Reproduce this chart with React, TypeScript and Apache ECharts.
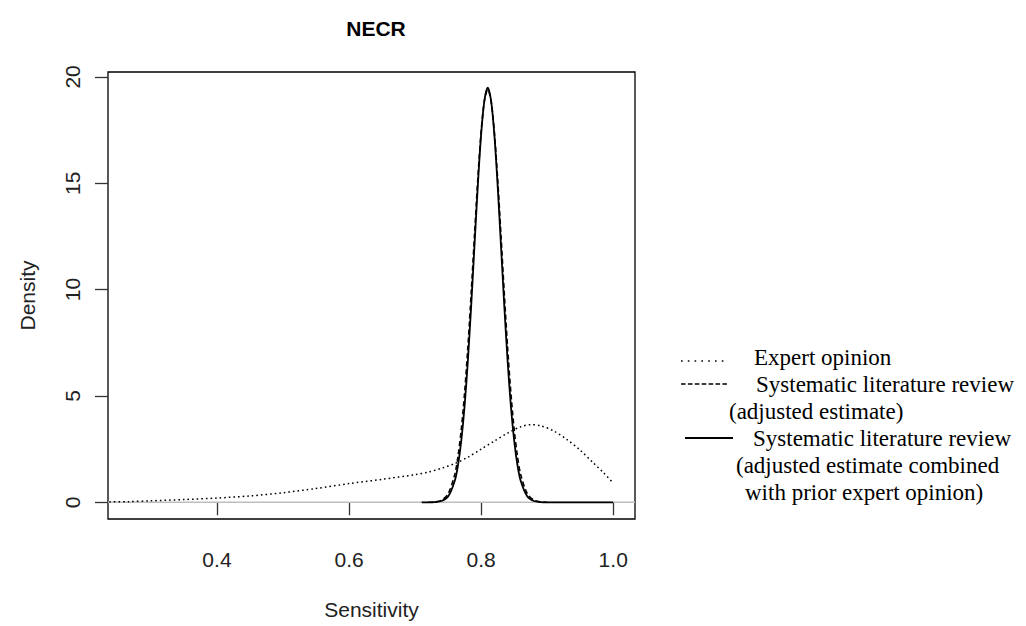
import React, { useEffect, useRef } from "react";
import * as echarts from "echarts";

// ---- data ----
const expertX = [0.237, 0.265, 0.3, 0.35, 0.4, 0.45, 0.5, 0.55, 0.6, 0.65, 0.7, 0.72, 0.74, 0.76, 0.78, 0.8, 0.82, 0.84, 0.86, 0.875, 0.89, 0.91, 0.93, 0.95, 0.97, 0.985, 1.0];
const expertY = [0.02, 0.03, 0.07, 0.13, 0.2, 0.3, 0.45, 0.65, 0.88, 1.08, 1.3, 1.42, 1.6, 1.82, 2.12, 2.5, 2.88, 3.25, 3.55, 3.65, 3.6, 3.35, 2.95, 2.45, 1.85, 1.4, 0.9];

const reviewX = [0.72, 0.73, 0.74, 0.75, 0.76, 0.765, 0.77, 0.775, 0.78, 0.785, 0.79, 0.795, 0.8, 0.805, 0.81, 0.815, 0.82, 0.825, 0.83, 0.835, 0.84, 0.845, 0.85, 0.855, 0.86, 0.87, 0.88, 0.89, 0.9];
const reviewY = [0, 0.02, 0.1, 0.4, 1.3, 2.17, 3.44, 5.16, 7.33, 9.87, 12.59, 15.21, 17.41, 18.88, 19.4, 18.88, 17.41, 15.21, 12.59, 9.87, 7.33, 5.16, 3.44, 2.17, 1.3, 0.4, 0.1, 0.02, 0];

const combinedX = [0.71, 0.72, 0.73, 0.74, 0.75, 0.76, 0.765, 0.77, 0.775, 0.78, 0.785, 0.79, 0.795, 0.8, 0.805, 0.81, 0.815, 0.82, 0.825, 0.83, 0.835, 0.84, 0.845, 0.85, 0.855, 0.86, 0.87, 0.88, 0.89, 0.9, 1.0];
const combinedY = [0, 0, 0.01, 0.06, 0.27, 1.0, 1.75, 2.91, 4.54, 6.69, 9.27, 12.1, 14.9, 17.3, 18.9, 19.5, 18.9, 17.3, 14.9, 12.1, 9.27, 6.69, 4.54, 2.91, 1.75, 1.0, 0.27, 0.06, 0.01, 0, 0];

const xTicks = [0.4, 0.6, 0.8, 1.0];
const yTicks = [0, 5, 10, 15, 20];

const titleText = "NECR";
const xTitle = "Sensitivity";
const yTitle = "Density";

const legendLines = [
  "Expert opinion",
  "Systematic literature review",
  "(adjusted estimate)",
  "Systematic literature review",
  "(adjusted estimate combined",
  "with prior expert opinion)",
];
const legendSymbols = ["dotted", "dashed", "", "solid", "", ""];

const X_MIN = 0.235;
const X_MAX = 1.033;
const Y_MIN = -0.785;
const Y_MAX = 20.23;

const zip = (xs: number[], ys: number[]) => xs.map((x, i) => [x, ys[i]]);

export default function App() {
  const ref = useRef<HTMLDivElement>(null);

  useEffect(() => {
    if (!ref.current) return;
    const chart = echarts.init(ref.current, undefined, { renderer: "svg" });

    const sans = "Liberation Sans";
    const serif = "Liberation Serif";
    const legendTextX = [754, 756, 729, 753, 736, 745];
    const rowY = [357, 384, 411, 438, 465, 492];

    const legendGraphics: any[] = [];
    legendLines.forEach((t, i) => {
      legendGraphics.push({
        type: "text",
        x: legendTextX[i],
        y: rowY[i],
        style: {
          text: t,
          fontFamily: serif,
          fontSize: 23,
          fill: "#000",
          textAlign: "left",
          textVerticalAlign: "middle",
        },
      });
      const sym = legendSymbols[i];
      if (sym) {
        const lineDash = sym === "dotted" ? [1.6, 5.2] : sym === "dashed" ? [4.6, 2.3] : null;
        const yy = rowY[i] + (sym === "dotted" ? 4 : 0);
        legendGraphics.push({
          type: "line",
          shape: { x1: sym === "solid" ? 685 : 681, y1: yy, x2: sym === "solid" ? 733 : 728, y2: yy },
          style: { stroke: "#000", lineWidth: sym === "solid" ? 2 : 1.6, lineDash: lineDash as any },
        });
      }
    });

    chart.setOption({
      animation: false,
      backgroundColor: "#fff",
      title: {
        text: titleText,
        left: 371,
        top: 13,
        textAlign: "center",
        textStyle: { fontFamily: sans, fontWeight: "bold", fontSize: 21, color: "#000" },
      },
      grid: {
        left: 108,
        right: 391,
        top: 72,
        bottom: 107,
        show: true,
        borderColor: "#000",
        borderWidth: 1.3,
        backgroundColor: "transparent",
      },
      xAxis: {
        type: "value",
        min: X_MIN,
        max: X_MAX,
        name: xTitle,
        nameLocation: "middle",
        nameGap: 80,
        nameTextStyle: { fontFamily: sans, fontSize: 21, color: "#222" },
        axisLine: { show: false },
        splitLine: { show: false },
        axisTick: { show: true, customValues: xTicks, length: 13, inside: false, lineStyle: { color: "#333", width: 1.3 } },
        axisLabel: {
          customValues: xTicks,
          margin: 30,
          fontFamily: sans,
          fontSize: 21,
          color: "#222",
          formatter: (v: number) => v.toFixed(1),
        },
      },
      yAxis: {
        type: "value",
        min: Y_MIN,
        max: Y_MAX,
        name: yTitle,
        nameLocation: "middle",
        nameRotate: 90,
        nameGap: 70,
        nameTextStyle: { fontFamily: sans, fontSize: 21, color: "#222" },
        axisLine: { show: false },
        splitLine: { show: false },
        axisTick: { show: true, customValues: yTicks, length: 13, inside: false, lineStyle: { color: "#333", width: 1.3 } },
        axisLabel: {
          customValues: yTicks,
          rotate: 90,
          margin: 25,
          fontFamily: sans,
          fontSize: 21,
          color: "#222",
          formatter: (v: number) => String(Math.round(v)),
        },
      },
      graphic: legendGraphics,
      series: [
        {
          name: "zero",
          type: "line",
          data: [[X_MIN, 0], [X_MAX, 0]],
          symbol: "none",
          silent: true,
          z: 1,
          lineStyle: { color: "#bebebe", width: 1.5 },
        },
        {
          name: "Expert opinion",
          type: "line",
          data: zip(expertX, expertY),
          symbol: "none",
          smooth: 0.3,
          z: 2,
          lineStyle: { color: "#000", width: 1.5, type: [1.6, 3] },
        },
        {
          name: "Systematic literature review (combined)",
          type: "line",
          data: zip(combinedX, combinedY),
          symbol: "none",
          smooth: 0.3,
          z: 3,
          lineStyle: { color: "#000", width: 1.8 },
        },
        {
          name: "Systematic literature review (adjusted estimate)",
          type: "line",
          data: zip(reviewX, reviewY),
          symbol: "none",
          smooth: 0.3,
          z: 4,
          lineStyle: { color: "#000", width: 1.6, type: [5, 3] },
        },
      ],
    });

    return () => chart.dispose();
  }, []);

  return (
    <div
      ref={ref}
      style={{ position: "absolute", left: 0, top: 0, width: 1026, height: 626, background: "#fff" }}
    />
  );
}
